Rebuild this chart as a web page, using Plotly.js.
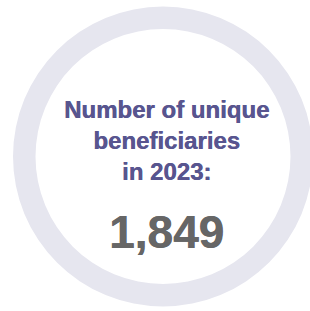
<!DOCTYPE html>
<html>
<head>
<meta charset="utf-8">
<script src="https://cdn.plot.ly/plotly-3.0.1.min.js"></script>
<style>
html, body { margin:0; padding:0; background:#fff; overflow:hidden; width:310px; height:311px; }
#chart { width:320px; height:311px; }
</style>
</head>
<body>
<div id="chart"></div>
<script>
// Data
const ringLabels = ['Unique beneficiaries in 2023'];
const ringValues = [1849];
const headlineLines = ['Number of unique', 'beneficiaries', 'in 2023:'];
const totalBeneficiaries = 1849;

const W = 320, H = 311;
const cx = 163, cy = 156.5, R = 150;

const trace = {
  type: 'pie',
  labels: ringLabels,
  values: ringValues,
  hole: 0.85,
  sort: false,
  textinfo: 'none',
  hoverinfo: 'skip',
  showlegend: false,
  marker: { colors: ['#e6e6ef'], line: { width: 0 } },
  domain: { x: [(cx - R) / W, (cx + R) / W], y: [(H - cy - R) / H, (H - cy + R) / H] }
};

const FONT = 'Liberation Sans, Arial, sans-serif';

const layout = {
  width: W, height: H,
  margin: { l: 0, r: 0, t: 0, b: 0 },
  paper_bgcolor: '#ffffff',
  plot_bgcolor: '#ffffff',
  showlegend: false,
  annotations: [
    {
      text: headlineLines.map(s => '<b>' + s + '</b>').join('<br>'),
      xref: 'paper', yref: 'paper',
      x: 166 / W, y: (H - 140) / H,
      xanchor: 'center', yanchor: 'middle',
      showarrow: false, align: 'center',
      font: { family: FONT, size: 24, color: '#58558f', shadow: '0.4px 0 0 #58558f' }
    },
    {
      text: '<b>' + totalBeneficiaries.toLocaleString('en-US') + '</b>',
      xref: 'paper', yref: 'paper',
      x: 166.5 / W, y: (H - 232) / H,
      xanchor: 'center', yanchor: 'middle',
      showarrow: false,
      font: { family: FONT, size: 46, color: '#666666', shadow: '0.5px 0 0 #666666' }
    }
  ]
};

Plotly.newPlot('chart', [trace], layout, { displayModeBar: false, staticPlot: true });
</script>
</body>
</html>
